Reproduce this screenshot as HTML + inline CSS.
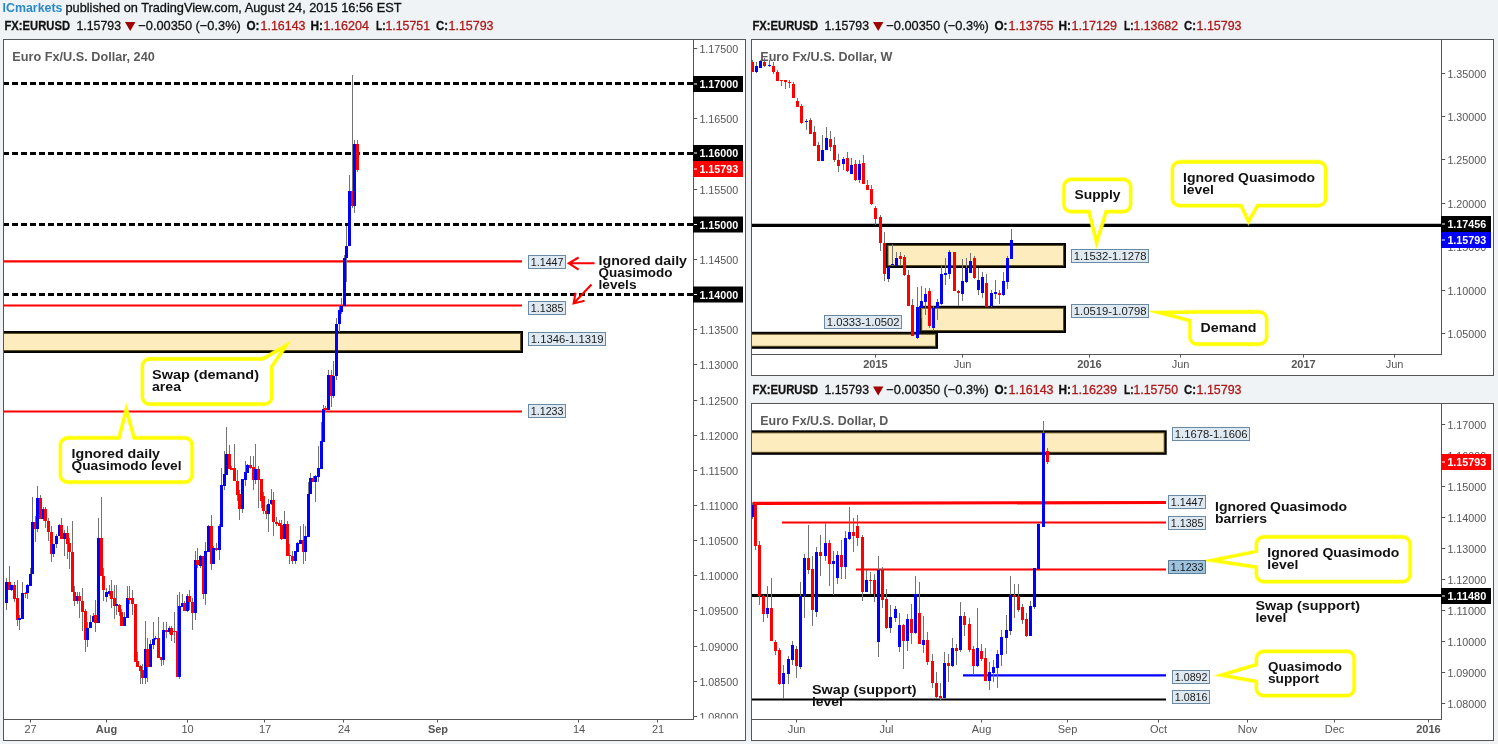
<!DOCTYPE html><html><head><meta charset="utf-8"><title>EURUSD</title>
<style>html,body{margin:0;padding:0;background:#eff3f6;}svg{display:block;font-family:"Liberation Sans", sans-serif;will-change:transform;}</style></head><body>
<svg width="1498" height="744" viewBox="0 0 1498 744">
<rect x="0" y="0" width="1498" height="744" fill="#eff3f6"/>
<text x="2.5" y="11.5" font-size="13" font-weight="bold" fill="#2b8ac6" text-anchor="start" textLength="60" lengthAdjust="spacingAndGlyphs">ICmarkets</text>
<text x="65.5" y="11.5" font-size="13" font-weight="normal" fill="#111" text-anchor="start" textLength="336" lengthAdjust="spacingAndGlyphs" stroke="#111" stroke-width="0.3">published on TradingView.com, August 24, 2015 16:56 EST</text>
<text x="4.5" y="29.5" font-size="13" font-weight="bold" fill="#111" text-anchor="start" textLength="65.5" lengthAdjust="spacingAndGlyphs" stroke="#111" stroke-width="0.3">FX:EURUSD</text>
<text x="76.5" y="29.5" font-size="13" font-weight="normal" fill="#111" text-anchor="start" textLength="44.5" lengthAdjust="spacingAndGlyphs" stroke="#111" stroke-width="0.3">1.15793</text>
<path d="M125 22.0 L135.4 22.0 L130.2 31.0 Z" fill="#a00000"/>
<text x="138.3" y="29.5" font-size="13" font-weight="normal" fill="#111" text-anchor="start" textLength="102.5" lengthAdjust="spacingAndGlyphs" stroke="#111" stroke-width="0.3">−0.00350 (−0.3%)</text>
<text x="246.5" y="29.5" font-size="13" font-weight="bold" fill="#111" text-anchor="start" textLength="13" lengthAdjust="spacingAndGlyphs" stroke="#111" stroke-width="0.3">O:</text>
<text x="260.5" y="29.5" font-size="13" font-weight="normal" fill="#b01818" text-anchor="start" textLength="45" lengthAdjust="spacingAndGlyphs" stroke="#b01818" stroke-width="0.3">1.16143</text>
<text x="310.5" y="29.5" font-size="13" font-weight="bold" fill="#111" text-anchor="start" textLength="12.5" lengthAdjust="spacingAndGlyphs" stroke="#111" stroke-width="0.3">H:</text>
<text x="323.5" y="29.5" font-size="13" font-weight="normal" fill="#b01818" text-anchor="start" textLength="45.5" lengthAdjust="spacingAndGlyphs" stroke="#b01818" stroke-width="0.3">1.16204</text>
<text x="376" y="29.5" font-size="13" font-weight="bold" fill="#111" text-anchor="start" textLength="9.5" lengthAdjust="spacingAndGlyphs" stroke="#111" stroke-width="0.3">L:</text>
<text x="385.5" y="29.5" font-size="13" font-weight="normal" fill="#b01818" text-anchor="start" textLength="44.5" lengthAdjust="spacingAndGlyphs" stroke="#b01818" stroke-width="0.3">1.15751</text>
<text x="436" y="29.5" font-size="13" font-weight="bold" fill="#111" text-anchor="start" textLength="12" lengthAdjust="spacingAndGlyphs" stroke="#111" stroke-width="0.3">C:</text>
<text x="448.5" y="29.5" font-size="13" font-weight="normal" fill="#b01818" text-anchor="start" textLength="45" lengthAdjust="spacingAndGlyphs" stroke="#b01818" stroke-width="0.3">1.15793</text>
<text x="752.5" y="29.5" font-size="13" font-weight="bold" fill="#111" text-anchor="start" textLength="65.5" lengthAdjust="spacingAndGlyphs" stroke="#111" stroke-width="0.3">FX:EURUSD</text>
<text x="824.5" y="29.5" font-size="13" font-weight="normal" fill="#111" text-anchor="start" textLength="44.5" lengthAdjust="spacingAndGlyphs" stroke="#111" stroke-width="0.3">1.15793</text>
<path d="M873 22.0 L883.4 22.0 L878.2 31.0 Z" fill="#a00000"/>
<text x="886.3" y="29.5" font-size="13" font-weight="normal" fill="#111" text-anchor="start" textLength="102.5" lengthAdjust="spacingAndGlyphs" stroke="#111" stroke-width="0.3">−0.00350 (−0.3%)</text>
<text x="994.5" y="29.5" font-size="13" font-weight="bold" fill="#111" text-anchor="start" textLength="13" lengthAdjust="spacingAndGlyphs" stroke="#111" stroke-width="0.3">O:</text>
<text x="1008.5" y="29.5" font-size="13" font-weight="normal" fill="#b01818" text-anchor="start" textLength="45" lengthAdjust="spacingAndGlyphs" stroke="#b01818" stroke-width="0.3">1.13755</text>
<text x="1058.5" y="29.5" font-size="13" font-weight="bold" fill="#111" text-anchor="start" textLength="12.5" lengthAdjust="spacingAndGlyphs" stroke="#111" stroke-width="0.3">H:</text>
<text x="1071.5" y="29.5" font-size="13" font-weight="normal" fill="#b01818" text-anchor="start" textLength="45.5" lengthAdjust="spacingAndGlyphs" stroke="#b01818" stroke-width="0.3">1.17129</text>
<text x="1124" y="29.5" font-size="13" font-weight="bold" fill="#111" text-anchor="start" textLength="9.5" lengthAdjust="spacingAndGlyphs" stroke="#111" stroke-width="0.3">L:</text>
<text x="1133.5" y="29.5" font-size="13" font-weight="normal" fill="#b01818" text-anchor="start" textLength="44.5" lengthAdjust="spacingAndGlyphs" stroke="#b01818" stroke-width="0.3">1.13682</text>
<text x="1184" y="29.5" font-size="13" font-weight="bold" fill="#111" text-anchor="start" textLength="12" lengthAdjust="spacingAndGlyphs" stroke="#111" stroke-width="0.3">C:</text>
<text x="1196.5" y="29.5" font-size="13" font-weight="normal" fill="#b01818" text-anchor="start" textLength="45" lengthAdjust="spacingAndGlyphs" stroke="#b01818" stroke-width="0.3">1.15793</text>
<text x="752.5" y="394" font-size="13" font-weight="bold" fill="#111" text-anchor="start" textLength="65.5" lengthAdjust="spacingAndGlyphs" stroke="#111" stroke-width="0.3">FX:EURUSD</text>
<text x="824.5" y="394" font-size="13" font-weight="normal" fill="#111" text-anchor="start" textLength="44.5" lengthAdjust="spacingAndGlyphs" stroke="#111" stroke-width="0.3">1.15793</text>
<path d="M873 386.5 L883.4 386.5 L878.2 395.5 Z" fill="#a00000"/>
<text x="886.3" y="394" font-size="13" font-weight="normal" fill="#111" text-anchor="start" textLength="102.5" lengthAdjust="spacingAndGlyphs" stroke="#111" stroke-width="0.3">−0.00350 (−0.3%)</text>
<text x="994.5" y="394" font-size="13" font-weight="bold" fill="#111" text-anchor="start" textLength="13" lengthAdjust="spacingAndGlyphs" stroke="#111" stroke-width="0.3">O:</text>
<text x="1008.5" y="394" font-size="13" font-weight="normal" fill="#b01818" text-anchor="start" textLength="45" lengthAdjust="spacingAndGlyphs" stroke="#b01818" stroke-width="0.3">1.16143</text>
<text x="1058.5" y="394" font-size="13" font-weight="bold" fill="#111" text-anchor="start" textLength="12.5" lengthAdjust="spacingAndGlyphs" stroke="#111" stroke-width="0.3">H:</text>
<text x="1071.5" y="394" font-size="13" font-weight="normal" fill="#b01818" text-anchor="start" textLength="45.5" lengthAdjust="spacingAndGlyphs" stroke="#b01818" stroke-width="0.3">1.16239</text>
<text x="1124" y="394" font-size="13" font-weight="bold" fill="#111" text-anchor="start" textLength="9.5" lengthAdjust="spacingAndGlyphs" stroke="#111" stroke-width="0.3">L:</text>
<text x="1133.5" y="394" font-size="13" font-weight="normal" fill="#b01818" text-anchor="start" textLength="44.5" lengthAdjust="spacingAndGlyphs" stroke="#b01818" stroke-width="0.3">1.15750</text>
<text x="1184" y="394" font-size="13" font-weight="bold" fill="#111" text-anchor="start" textLength="12" lengthAdjust="spacingAndGlyphs" stroke="#111" stroke-width="0.3">C:</text>
<text x="1196.5" y="394" font-size="13" font-weight="normal" fill="#b01818" text-anchor="start" textLength="45" lengthAdjust="spacingAndGlyphs" stroke="#b01818" stroke-width="0.3">1.15793</text>
<rect x="3.5" y="39.5" width="742" height="701" fill="#fff" stroke="#555" stroke-width="1"/>
<line x1="693.5" y1="39" x2="693.5" y2="720" stroke="#555" stroke-width="1"/>
<line x1="3" y1="719.5" x2="694" y2="719.5" stroke="#555" stroke-width="1"/>
<clipPath id="c1"><rect x="4" y="40" width="689" height="679"/></clipPath>
<g clip-path="url(#c1)">
<line x1="3" y1="261.4" x2="522" y2="261.4" stroke="#ff0000" stroke-width="2.1"/>
<line x1="3" y1="305.5" x2="522" y2="305.5" stroke="#ff0000" stroke-width="2.1"/>
<line x1="3" y1="411.5" x2="522" y2="411.5" stroke="#ff0000" stroke-width="2.1"/>
<rect x="-10" y="331" width="533" height="22" fill="#000"/>
<rect x="-8.1" y="332.9" width="529.2" height="18.2" fill="#5e4e24"/>
<rect x="-7" y="334" width="527" height="16" fill="#fdecbd"/>
<line x1="3" y1="83.5" x2="693" y2="83.5" stroke="#000" stroke-width="3" stroke-dasharray="6 3"/>
<line x1="3" y1="153.5" x2="693" y2="153.5" stroke="#000" stroke-width="3" stroke-dasharray="6 3"/>
<line x1="3" y1="224.5" x2="693" y2="224.5" stroke="#000" stroke-width="3" stroke-dasharray="6 3"/>
<line x1="3" y1="294.5" x2="693" y2="294.5" stroke="#000" stroke-width="3" stroke-dasharray="6 3"/>
<g shape-rendering="crispEdges"><path d="M6.5 578V610M9.5 566V590M11.5 585V591M14.5 582V602M17.5 580V626M19.5 615V630M22.5 582V619M25.5 592V598M27.5 584V599M30.5 568V586M32.5 497V574M35.5 516V542M37.5 486V532M40.5 495V519M43.5 507V521M45.5 507V528M48.5 518V541M51.5 526V562M53.5 544V557M56.5 534V548M59.5 524V536M61.5 518V539M64.5 530V556M67.5 526V559M69.5 538V569M72.5 521V592M74.5 586V606M77.5 592V604M79.5 592V618M82.5 588V631M85.5 609V652M87.5 622V647M90.5 615V628M93.5 613V622M95.5 600V632M98.5 518V623M101.5 497V576M103.5 568V601M106.5 588V602M109.5 585V596M111.5 580V608M114.5 585V619M116.5 585V615M119.5 604V616M121.5 609V626M124.5 612V626M127.5 586V618M129.5 586V604M132.5 590V615M135.5 604V662M137.5 652V667M140.5 665V684M142.5 664V684M145.5 621V684M147.5 638V682M150.5 640V667M153.5 622V649M155.5 636V640M158.5 617V658M161.5 657V666M163.5 622V665M166.5 622V638M169.5 626V634M171.5 626V641M174.5 612V643M177.5 595V677M179.5 592V679M182.5 594V607M184.5 601V611M187.5 594V612M189.5 590V610M192.5 598V630M195.5 551V620M197.5 548V568M200.5 555V568M203.5 556V599M205.5 542V605M208.5 525V552M211.5 515V570M213.5 546V564M216.5 543V551M219.5 524V560M221.5 468V527M224.5 451V490M226.5 427V475M229.5 445V469M231.5 466V470M234.5 444V481M237.5 470V501M239.5 490V520M242.5 479V513M245.5 461V486M247.5 464V473M250.5 456V469M253.5 456V490M255.5 444V484M258.5 466V508M261.5 479V508M263.5 492V514M266.5 505V519M268.5 499V532M271.5 489V505M273.5 492V536M276.5 517V526M279.5 520V526M281.5 520V540M284.5 511V539M287.5 521V556M289.5 544V564M292.5 551V564M295.5 551V564M297.5 542V552M300.5 526V544M303.5 524V564M305.5 526V561M308.5 482V537M310.5 473V494M313.5 476V482M315.5 475V502M318.5 446V482M321.5 422V469M323.5 405V442M325.5 406V412M328.5 370V410M331.5 370V407M333.5 361V398M336.5 318V380M339.5 305V332M341.5 298V314M344.5 255V306M346.5 226V282M349.5 175V246M352.5 75V208M354.5 140V213M357.5 140V172" stroke="#737373" stroke-width="1" fill="none"/>
<path d="M5 582h3V603h-3Z" fill="#0000ff"/>
<path d="M8 582h3V590h-3Z" fill="#ff0000"/>
<path d="M10 585h3V590h-3Z" fill="#0000ff"/>
<path d="M13 585h3V599h-3ZM16 598h3V620h-3Z" fill="#ff0000"/>
<path d="M18 618h3V620h-3ZM21 593h3V619h-3Z" fill="#0000ff"/>
<path d="M24 593h3V594h-3Z" fill="#ff0000"/>
<path d="M26 585h3V593h-3ZM29 574h3V586h-3ZM31 522h3V574h-3Z" fill="#0000ff"/>
<path d="M34 522h3V529h-3Z" fill="#ff0000"/>
<path d="M36 498h3V529h-3Z" fill="#0000ff"/>
<path d="M39 498h3V519h-3Z" fill="#ff0000"/>
<path d="M42 509h3V519h-3Z" fill="#0000ff"/>
<path d="M44 509h3V521h-3ZM47 521h3V532h-3ZM50 532h3V554h-3Z" fill="#ff0000"/>
<path d="M52 544h3V554h-3ZM55 536h3V544h-3ZM58 525h3V536h-3Z" fill="#0000ff"/>
<path d="M60 525h3V539h-3Z" fill="#ff0000"/>
<path d="M63 533h3V539h-3Z" fill="#0000ff"/>
<path d="M66 533h3V544h-3ZM68 543h3V552h-3ZM71 552h3V592h-3ZM73 592h3V601h-3Z" fill="#ff0000"/>
<path d="M76 596h3V601h-3Z" fill="#0000ff"/>
<path d="M78 596h3V601h-3ZM81 601h3V612h-3ZM84 611h3V640h-3Z" fill="#ff0000"/>
<path d="M86 628h3V640h-3ZM89 622h3V628h-3ZM92 616h3V622h-3Z" fill="#0000ff"/>
<path d="M94 615h3V623h-3Z" fill="#ff0000"/>
<path d="M97 538h3V623h-3Z" fill="#0000ff"/>
<path d="M100 538h3V576h-3ZM102 576h3V590h-3Z" fill="#ff0000"/>
<path d="M105 592h3V597h-3ZM108 591h3V594h-3Z" fill="#0000ff"/>
<path d="M110 591h3V599h-3ZM113 598h3V606h-3Z" fill="#ff0000"/>
<path d="M115 604h3V606h-3Z" fill="#0000ff"/>
<path d="M118 605h3V612h-3ZM120 612h3V626h-3Z" fill="#ff0000"/>
<path d="M123 617h3V626h-3ZM126 598h3V618h-3Z" fill="#0000ff"/>
<path d="M128 598h3V600h-3ZM131 598h3V604h-3ZM134 604h3V662h-3ZM136 661h3V667h-3ZM139 666h3V671h-3ZM141 670h3V678h-3Z" fill="#ff0000"/>
<path d="M144 649h3V678h-3Z" fill="#0000ff"/>
<path d="M146 649h3V667h-3Z" fill="#ff0000"/>
<path d="M149 644h3V667h-3ZM152 639h3V645h-3ZM154 638h3V639h-3Z" fill="#0000ff"/>
<path d="M157 638h3V658h-3ZM160 657h3V660h-3Z" fill="#ff0000"/>
<path d="M162 630h3V660h-3Z" fill="#0000ff"/>
<path d="M165 630h3V632h-3Z" fill="#ff0000"/>
<path d="M168 628h3V632h-3Z" fill="#0000ff"/>
<path d="M170 628h3V635h-3ZM173 631h3V632h-3ZM176 631h3V677h-3Z" fill="#ff0000"/>
<path d="M178 606h3V677h-3ZM181 603h3V607h-3Z" fill="#0000ff"/>
<path d="M183 603h3V611h-3Z" fill="#ff0000"/>
<path d="M186 596h3V611h-3Z" fill="#0000ff"/>
<path d="M188 596h3V602h-3ZM191 602h3V613h-3Z" fill="#ff0000"/>
<path d="M194 560h3V613h-3Z" fill="#0000ff"/>
<path d="M196 560h3V565h-3Z" fill="#ff0000"/>
<path d="M199 556h3V566h-3Z" fill="#0000ff"/>
<path d="M202 556h3V594h-3Z" fill="#ff0000"/>
<path d="M204 551h3V594h-3ZM207 526h3V552h-3Z" fill="#0000ff"/>
<path d="M210 526h3V564h-3Z" fill="#ff0000"/>
<path d="M212 548h3V564h-3Z" fill="#0000ff"/>
<path d="M215 548h3V550h-3Z" fill="#ff0000"/>
<path d="M218 526h3V550h-3ZM220 485h3V527h-3ZM223 474h3V486h-3ZM225 454h3V475h-3Z" fill="#0000ff"/>
<path d="M228 454h3V469h-3ZM230 468h3V470h-3ZM233 468h3V481h-3ZM236 481h3V495h-3ZM238 494h3V509h-3Z" fill="#ff0000"/>
<path d="M241 479h3V509h-3ZM244 472h3V480h-3ZM246 465h3V473h-3Z" fill="#0000ff"/>
<path d="M249 465h3V468h-3ZM252 467h3V480h-3Z" fill="#ff0000"/>
<path d="M254 469h3V480h-3Z" fill="#0000ff"/>
<path d="M257 469h3V480h-3ZM260 479h3V501h-3ZM262 496h3V511h-3ZM265 511h3V514h-3Z" fill="#ff0000"/>
<path d="M267 504h3V514h-3ZM270 500h3V504h-3Z" fill="#0000ff"/>
<path d="M272 500h3V522h-3ZM275 522h3V524h-3ZM278 523h3V526h-3ZM280 525h3V539h-3Z" fill="#ff0000"/>
<path d="M283 524h3V539h-3Z" fill="#0000ff"/>
<path d="M286 524h3V556h-3ZM288 555h3V556h-3ZM291 556h3V561h-3Z" fill="#ff0000"/>
<path d="M294 551h3V561h-3ZM296 543h3V552h-3ZM299 540h3V544h-3Z" fill="#0000ff"/>
<path d="M302 540h3V552h-3Z" fill="#ff0000"/>
<path d="M304 536h3V552h-3ZM307 494h3V537h-3ZM309 478h3V494h-3Z" fill="#0000ff"/>
<path d="M312 478h3V482h-3Z" fill="#ff0000"/>
<path d="M314 476h3V482h-3ZM317 468h3V477h-3ZM320 441h3V469h-3ZM322 409h3V442h-3Z" fill="#0000ff"/>
<path d="M324 408h3V410h-3Z" fill="#ff0000"/>
<path d="M327 375h3V410h-3Z" fill="#0000ff"/>
<path d="M330 375h3V396h-3Z" fill="#ff0000"/>
<path d="M332 376h3V396h-3ZM335 324h3V376h-3ZM338 310h3V324h-3ZM340 306h3V312h-3ZM343 258h3V306h-3ZM345 246h3V258h-3ZM348 191h3V246h-3Z" fill="#0000ff"/>
<path d="M351 191h3V206h-3Z" fill="#ff0000"/>
<path d="M353 144h3V206h-3Z" fill="#0000ff"/>
<path d="M356 144h3V170h-3Z" fill="#ff0000"/>
</g>
</g>
<rect x="528.5" y="255.5" width="37" height="13" fill="#dfe9f1" stroke="#6b89a3" stroke-width="1"/>
<text x="530.8" y="266.3" font-size="10" font-weight="normal" fill="#1a1a1a" text-anchor="start" textLength="32.7" lengthAdjust="spacingAndGlyphs">1.1447</text>
<rect x="528.5" y="301.5" width="37" height="13" fill="#dfe9f1" stroke="#6b89a3" stroke-width="1"/>
<text x="530.8" y="312.3" font-size="10" font-weight="normal" fill="#1a1a1a" text-anchor="start" textLength="32.7" lengthAdjust="spacingAndGlyphs">1.1385</text>
<rect x="528.5" y="332.5" width="77" height="13" fill="#dfe9f1" stroke="#6b89a3" stroke-width="1"/>
<text x="530.8" y="343.3" font-size="10" font-weight="normal" fill="#1a1a1a" text-anchor="start" textLength="72.7" lengthAdjust="spacingAndGlyphs">1.1346-1.1319</text>
<rect x="528.5" y="404.5" width="37" height="13" fill="#dfe9f1" stroke="#6b89a3" stroke-width="1"/>
<text x="530.8" y="415.3" font-size="10" font-weight="normal" fill="#1a1a1a" text-anchor="start" textLength="32.7" lengthAdjust="spacingAndGlyphs">1.1233</text>
<g stroke="#ff0000" stroke-width="2.1" fill="none" stroke-linecap="butt" stroke-linejoin="miter">
<path d="M594.6 263.3 L569 263.3 M578.6 257.5 L568.8 263.3 L578.6 269.6"/>
<path d="M591.5 284.5 L574.2 302.8 M575.6 292.8 L573.6 303.4 L584.6 300.8"/>
</g>
<text x="598.5" y="265" font-size="12" font-weight="bold" fill="#111" text-anchor="start" textLength="88.5" lengthAdjust="spacingAndGlyphs">Ignored daily</text>
<text x="598.5" y="277" font-size="12" font-weight="bold" fill="#111" text-anchor="start" textLength="74" lengthAdjust="spacingAndGlyphs">Quasimodo</text>
<text x="598.5" y="289" font-size="12" font-weight="bold" fill="#111" text-anchor="start" textLength="38" lengthAdjust="spacingAndGlyphs">levels</text>
<path d="M149.5 359L263 359L285.52 345.98L271.7 366.5L271.7 397A7 7 0 0 1 264.7 404L149.5 404A7 7 0 0 1 142.5 397L142.5 366A7 7 0 0 1 149.5 359Z" fill="none" stroke="#ffff55" stroke-opacity="0.5" stroke-width="4.8" stroke-linejoin="miter" stroke-miterlimit="10"/>
<path d="M149.5 359L263 359L285.52 345.98L271.7 366.5L271.7 397A7 7 0 0 1 264.7 404L149.5 404A7 7 0 0 1 142.5 397L142.5 366A7 7 0 0 1 149.5 359Z" fill="#fff" stroke="#ffff00" stroke-width="3.3" stroke-linejoin="miter" stroke-miterlimit="10"/>
<text x="152" y="379" font-size="12" font-weight="bold" fill="#111" text-anchor="start" textLength="107" lengthAdjust="spacingAndGlyphs">Swap (demand)</text>
<text x="152" y="391" font-size="12" font-weight="bold" fill="#111" text-anchor="start" textLength="29" lengthAdjust="spacingAndGlyphs">area</text>
<path d="M67.5 438L119 438L126.33 410.0L134 438L185 438A7 7 0 0 1 192 445L192 475A7 7 0 0 1 185 482L67.5 482A7 7 0 0 1 60.5 475L60.5 445A7 7 0 0 1 67.5 438Z" fill="none" stroke="#ffff55" stroke-opacity="0.5" stroke-width="4.8" stroke-linejoin="miter" stroke-miterlimit="10"/>
<path d="M67.5 438L119 438L126.33 410.0L134 438L185 438A7 7 0 0 1 192 445L192 475A7 7 0 0 1 185 482L67.5 482A7 7 0 0 1 60.5 475L60.5 445A7 7 0 0 1 67.5 438Z" fill="#fff" stroke="#ffff00" stroke-width="3.3" stroke-linejoin="miter" stroke-miterlimit="10"/>
<text x="71.5" y="458" font-size="12" font-weight="bold" fill="#111" text-anchor="start" textLength="88.5" lengthAdjust="spacingAndGlyphs">Ignored daily</text>
<text x="71.5" y="470" font-size="12" font-weight="bold" fill="#111" text-anchor="start" textLength="110" lengthAdjust="spacingAndGlyphs">Quasimodo level</text>
<text x="12.3" y="61" font-size="12.5" font-weight="bold" fill="#5a5a5a" text-anchor="start" textLength="142.5" lengthAdjust="spacingAndGlyphs">Euro Fx/U.S. Dollar, 240</text>
<clipPath id="c1p"><rect x="694" y="40" width="51" height="678.6"/></clipPath>
<g clip-path="url(#c1p)">
<line x1="694" y1="48.5" x2="697.2" y2="48.5" stroke="#555" stroke-width="1"/>
<text x="699.4" y="52.9" font-size="11" font-weight="normal" fill="#555" text-anchor="start" textLength="38.8" lengthAdjust="spacingAndGlyphs">1.17500</text>
<line x1="694" y1="83.5" x2="697.2" y2="83.5" stroke="#555" stroke-width="1"/>
<text x="699.4" y="87.9" font-size="11" font-weight="normal" fill="#555" text-anchor="start" textLength="38.8" lengthAdjust="spacingAndGlyphs">1.17000</text>
<line x1="694" y1="118.5" x2="697.2" y2="118.5" stroke="#555" stroke-width="1"/>
<text x="699.4" y="122.9" font-size="11" font-weight="normal" fill="#555" text-anchor="start" textLength="38.8" lengthAdjust="spacingAndGlyphs">1.16500</text>
<line x1="694" y1="153.5" x2="697.2" y2="153.5" stroke="#555" stroke-width="1"/>
<text x="699.4" y="157.9" font-size="11" font-weight="normal" fill="#555" text-anchor="start" textLength="38.8" lengthAdjust="spacingAndGlyphs">1.16000</text>
<line x1="694" y1="189.5" x2="697.2" y2="189.5" stroke="#555" stroke-width="1"/>
<text x="699.4" y="193.9" font-size="11" font-weight="normal" fill="#555" text-anchor="start" textLength="38.8" lengthAdjust="spacingAndGlyphs">1.15500</text>
<line x1="694" y1="224.5" x2="697.2" y2="224.5" stroke="#555" stroke-width="1"/>
<text x="699.4" y="228.9" font-size="11" font-weight="normal" fill="#555" text-anchor="start" textLength="38.8" lengthAdjust="spacingAndGlyphs">1.15000</text>
<line x1="694" y1="259.5" x2="697.2" y2="259.5" stroke="#555" stroke-width="1"/>
<text x="699.4" y="263.9" font-size="11" font-weight="normal" fill="#555" text-anchor="start" textLength="38.8" lengthAdjust="spacingAndGlyphs">1.14500</text>
<line x1="694" y1="294.5" x2="697.2" y2="294.5" stroke="#555" stroke-width="1"/>
<text x="699.4" y="298.9" font-size="11" font-weight="normal" fill="#555" text-anchor="start" textLength="38.8" lengthAdjust="spacingAndGlyphs">1.14000</text>
<line x1="694" y1="329.5" x2="697.2" y2="329.5" stroke="#555" stroke-width="1"/>
<text x="699.4" y="333.9" font-size="11" font-weight="normal" fill="#555" text-anchor="start" textLength="38.8" lengthAdjust="spacingAndGlyphs">1.13500</text>
<line x1="694" y1="364.5" x2="697.2" y2="364.5" stroke="#555" stroke-width="1"/>
<text x="699.4" y="368.9" font-size="11" font-weight="normal" fill="#555" text-anchor="start" textLength="38.8" lengthAdjust="spacingAndGlyphs">1.13000</text>
<line x1="694" y1="400.5" x2="697.2" y2="400.5" stroke="#555" stroke-width="1"/>
<text x="699.4" y="404.9" font-size="11" font-weight="normal" fill="#555" text-anchor="start" textLength="38.8" lengthAdjust="spacingAndGlyphs">1.12500</text>
<line x1="694" y1="435.5" x2="697.2" y2="435.5" stroke="#555" stroke-width="1"/>
<text x="699.4" y="439.9" font-size="11" font-weight="normal" fill="#555" text-anchor="start" textLength="38.8" lengthAdjust="spacingAndGlyphs">1.12000</text>
<line x1="694" y1="470.5" x2="697.2" y2="470.5" stroke="#555" stroke-width="1"/>
<text x="699.4" y="474.9" font-size="11" font-weight="normal" fill="#555" text-anchor="start" textLength="38.8" lengthAdjust="spacingAndGlyphs">1.11500</text>
<line x1="694" y1="505.5" x2="697.2" y2="505.5" stroke="#555" stroke-width="1"/>
<text x="699.4" y="509.9" font-size="11" font-weight="normal" fill="#555" text-anchor="start" textLength="38.8" lengthAdjust="spacingAndGlyphs">1.11000</text>
<line x1="694" y1="540.5" x2="697.2" y2="540.5" stroke="#555" stroke-width="1"/>
<text x="699.4" y="544.9" font-size="11" font-weight="normal" fill="#555" text-anchor="start" textLength="38.8" lengthAdjust="spacingAndGlyphs">1.10500</text>
<line x1="694" y1="575.5" x2="697.2" y2="575.5" stroke="#555" stroke-width="1"/>
<text x="699.4" y="579.9" font-size="11" font-weight="normal" fill="#555" text-anchor="start" textLength="38.8" lengthAdjust="spacingAndGlyphs">1.10000</text>
<line x1="694" y1="610.5" x2="697.2" y2="610.5" stroke="#555" stroke-width="1"/>
<text x="699.4" y="614.9" font-size="11" font-weight="normal" fill="#555" text-anchor="start" textLength="38.8" lengthAdjust="spacingAndGlyphs">1.09500</text>
<line x1="694" y1="646.5" x2="697.2" y2="646.5" stroke="#555" stroke-width="1"/>
<text x="699.4" y="650.9" font-size="11" font-weight="normal" fill="#555" text-anchor="start" textLength="38.8" lengthAdjust="spacingAndGlyphs">1.09000</text>
<line x1="694" y1="681.5" x2="697.2" y2="681.5" stroke="#555" stroke-width="1"/>
<text x="699.4" y="685.9" font-size="11" font-weight="normal" fill="#555" text-anchor="start" textLength="38.8" lengthAdjust="spacingAndGlyphs">1.08500</text>
<line x1="694" y1="716.5" x2="697.2" y2="716.5" stroke="#555" stroke-width="1"/>
<text x="699.4" y="720.9" font-size="11" font-weight="normal" fill="#555" text-anchor="start" textLength="38.8" lengthAdjust="spacingAndGlyphs">1.08000</text>
</g>
<rect x="693" y="76" width="50" height="16" fill="#000"/>
<line x1="694" y1="84" x2="697" y2="84" stroke="#fff" stroke-width="1"/>
<text x="699.4" y="88" font-size="11" font-weight="bold" fill="#fff" text-anchor="start" textLength="38.8" lengthAdjust="spacingAndGlyphs">1.17000</text>
<rect x="693" y="145" width="50" height="16" fill="#000"/>
<line x1="694" y1="153" x2="697" y2="153" stroke="#fff" stroke-width="1"/>
<text x="699.4" y="157" font-size="11" font-weight="bold" fill="#fff" text-anchor="start" textLength="38.8" lengthAdjust="spacingAndGlyphs">1.16000</text>
<rect x="693" y="161" width="50" height="16" fill="#ff0000"/>
<line x1="694" y1="169" x2="697" y2="169" stroke="#fff" stroke-width="1"/>
<text x="699.4" y="173" font-size="11" font-weight="bold" fill="#fff" text-anchor="start" textLength="38.8" lengthAdjust="spacingAndGlyphs">1.15793</text>
<rect x="693" y="216.5" width="50" height="16" fill="#000"/>
<line x1="694" y1="224.5" x2="697" y2="224.5" stroke="#fff" stroke-width="1"/>
<text x="699.4" y="228.5" font-size="11" font-weight="bold" fill="#fff" text-anchor="start" textLength="38.8" lengthAdjust="spacingAndGlyphs">1.15000</text>
<rect x="693" y="286.5" width="50" height="16" fill="#000"/>
<line x1="694" y1="294.5" x2="697" y2="294.5" stroke="#fff" stroke-width="1"/>
<text x="699.4" y="298.5" font-size="11" font-weight="bold" fill="#fff" text-anchor="start" textLength="38.8" lengthAdjust="spacingAndGlyphs">1.14000</text>
<line x1="30.5" y1="720" x2="30.5" y2="722.5" stroke="#555" stroke-width="1"/>
<text x="30.5" y="733" font-size="11" font-weight="normal" fill="#555" text-anchor="middle">27</text>
<line x1="106.5" y1="720" x2="106.5" y2="722.5" stroke="#555" stroke-width="1"/>
<text x="106.5" y="733" font-size="11" font-weight="bold" fill="#555" text-anchor="middle">Aug</text>
<line x1="187.5" y1="720" x2="187.5" y2="722.5" stroke="#555" stroke-width="1"/>
<text x="187.5" y="733" font-size="11" font-weight="normal" fill="#555" text-anchor="middle">10</text>
<line x1="264.5" y1="720" x2="264.5" y2="722.5" stroke="#555" stroke-width="1"/>
<text x="265.0" y="733" font-size="11" font-weight="normal" fill="#555" text-anchor="middle">17</text>
<line x1="343.5" y1="720" x2="343.5" y2="722.5" stroke="#555" stroke-width="1"/>
<text x="344.0" y="733" font-size="11" font-weight="normal" fill="#555" text-anchor="middle">24</text>
<line x1="437.5" y1="720" x2="437.5" y2="722.5" stroke="#555" stroke-width="1"/>
<text x="438.0" y="733" font-size="11" font-weight="bold" fill="#555" text-anchor="middle">Sep</text>
<line x1="578.5" y1="720" x2="578.5" y2="722.5" stroke="#555" stroke-width="1"/>
<text x="579.0" y="733" font-size="11" font-weight="normal" fill="#555" text-anchor="middle">14</text>
<line x1="657.5" y1="720" x2="657.5" y2="722.5" stroke="#555" stroke-width="1"/>
<text x="658.0" y="733" font-size="11" font-weight="normal" fill="#555" text-anchor="middle">21</text>
<rect x="751.5" y="39.5" width="742" height="336" fill="#fff" stroke="#555" stroke-width="1"/>
<line x1="1441.5" y1="39" x2="1441.5" y2="355" stroke="#555" stroke-width="1"/>
<line x1="751" y1="354.5" x2="1442" y2="354.5" stroke="#555" stroke-width="1"/>
<clipPath id="c2"><rect x="752" y="40" width="689" height="314"/></clipPath>
<g clip-path="url(#c2)">
<line x1="751" y1="225.3" x2="1441" y2="225.3" stroke="#000" stroke-width="3.2"/>
<rect x="885.5" y="243" width="180.5" height="25" fill="#000"/>
<rect x="887.4" y="244.9" width="176.7" height="21.2" fill="#5e4e24"/>
<rect x="888.5" y="246" width="174.5" height="19" fill="#fdecbd"/>
<rect x="919.2" y="305.8" width="146.79999999999995" height="27.19999999999999" fill="#000"/>
<rect x="921.1" y="307.7" width="142.99999999999994" height="23.399999999999988" fill="#5e4e24"/>
<rect x="922.2" y="308.8" width="140.79999999999995" height="21.19999999999999" fill="#fdecbd"/>
<rect x="740" y="331.8" width="198" height="17.0" fill="#000"/>
<rect x="741.9" y="333.7" width="194.2" height="13.2" fill="#5e4e24"/>
<rect x="743" y="334.8" width="192" height="11.0" fill="#fdecbd"/>
<g shape-rendering="crispEdges"><path d="M752.5 60V72M756.5 62V73M760.5 60V68M764.5 58V67M769.5 60V67M773.5 62V74M777.5 70V81M781.5 80V86M785.5 80V89M789.5 80V88M793.5 82V98M797.5 98V107M801.5 104V124M806.5 119V130M810.5 118V134M814.5 126V146M818.5 142V161M822.5 135V161M826.5 127V150M830.5 131V151M834.5 137V162M838.5 154V172M843.5 157V170M847.5 152V172M851.5 158V174M855.5 160V181M859.5 160V183M863.5 155V184M867.5 180V190M871.5 185V205M875.5 206V225M880.5 215V251M884.5 232V281M888.5 267V282M892.5 244V266M896.5 252V266M900.5 252V266M904.5 255V276M908.5 270V306M912.5 299V336M917.5 287V339M921.5 286V318M925.5 288V315M929.5 288V328M933.5 306V331M937.5 299V320M941.5 266V305M945.5 258V285M949.5 250V279M954.5 252V291M958.5 290V306M962.5 259V301M966.5 258V283M970.5 253V273M974.5 256V279M978.5 268V295M982.5 272V298M986.5 274V307M991.5 290V307M995.5 280V299M999.5 290V304M1003.5 272V296M1007.5 256V289M1011.5 229V259" stroke="#737373" stroke-width="1" fill="none"/>
<path d="M751 62h3V72h-3Z" fill="#ff0000"/>
<path d="M755 66h3V72h-3ZM759 61h3V68h-3Z" fill="#0000ff"/>
<path d="M763 62h3V66h-3Z" fill="#ff0000"/>
<path d="M768 65h3V66h-3Z" fill="#0000ff"/>
<path d="M772 66h3V72h-3ZM776 72h3V81h-3ZM780 80h3V81h-3ZM784 80h3V82h-3ZM788 82h3V83h-3ZM792 84h3V98h-3ZM796 101h3V107h-3ZM800 106h3V123h-3Z" fill="#ff0000"/>
<path d="M805 121h3V122h-3Z" fill="#0000ff"/>
<path d="M809 120h3V134h-3ZM813 132h3V146h-3ZM817 145h3V161h-3Z" fill="#ff0000"/>
<path d="M821 150h3V161h-3ZM825 138h3V150h-3Z" fill="#0000ff"/>
<path d="M829 139h3V147h-3ZM833 145h3V160h-3ZM837 160h3V166h-3Z" fill="#ff0000"/>
<path d="M842 159h3V164h-3Z" fill="#0000ff"/>
<path d="M846 158h3V171h-3Z" fill="#ff0000"/>
<path d="M850 165h3V174h-3Z" fill="#0000ff"/>
<path d="M854 164h3V180h-3Z" fill="#ff0000"/>
<path d="M858 164h3V180h-3Z" fill="#0000ff"/>
<path d="M862 163h3V184h-3ZM866 185h3V190h-3ZM870 189h3V204h-3ZM874 208h3V219h-3ZM879 217h3V243h-3ZM883 243h3V274h-3Z" fill="#ff0000"/>
<path d="M887 267h3V279h-3ZM891 264h3V265h-3ZM895 258h3V266h-3Z" fill="#0000ff"/>
<path d="M899 256h3V259h-3ZM903 257h3V275h-3ZM907 275h3V306h-3ZM911 305h3V336h-3Z" fill="#ff0000"/>
<path d="M916 307h3V338h-3ZM920 301h3V308h-3ZM924 294h3V302h-3Z" fill="#0000ff"/>
<path d="M928 291h3V326h-3Z" fill="#ff0000"/>
<path d="M932 308h3V328h-3ZM936 302h3V308h-3ZM940 274h3V304h-3ZM944 273h3V275h-3ZM948 252h3V274h-3Z" fill="#0000ff"/>
<path d="M953 252h3V291h-3ZM957 291h3V293h-3Z" fill="#ff0000"/>
<path d="M961 281h3V294h-3ZM965 268h3V282h-3ZM969 261h3V273h-3Z" fill="#0000ff"/>
<path d="M973 258h3V278h-3Z" fill="#ff0000"/>
<path d="M977 280h3V290h-3ZM981 277h3V293h-3Z" fill="#0000ff"/>
<path d="M985 283h3V307h-3Z" fill="#ff0000"/>
<path d="M990 293h3V306h-3ZM994 292h3V294h-3Z" fill="#0000ff"/>
<path d="M998 293h3V295h-3Z" fill="#ff0000"/>
<path d="M1002 281h3V295h-3ZM1006 258h3V282h-3ZM1010 240h3V259h-3Z" fill="#0000ff"/>
</g>
</g>
<path d="M1071 179.5L1123.5 179.5A7 7 0 0 1 1130.5 186.5L1130.5 204.5A7 7 0 0 1 1123.5 211.5L1106 211.5L1096.65 242.18L1089 211.5L1071 211.5A7 7 0 0 1 1064 204.5L1064 186.5A7 7 0 0 1 1071 179.5Z" fill="none" stroke="#ffff55" stroke-opacity="0.5" stroke-width="4.8" stroke-linejoin="miter" stroke-miterlimit="10"/>
<path d="M1071 179.5L1123.5 179.5A7 7 0 0 1 1130.5 186.5L1130.5 204.5A7 7 0 0 1 1123.5 211.5L1106 211.5L1096.65 242.18L1089 211.5L1071 211.5A7 7 0 0 1 1064 204.5L1064 186.5A7 7 0 0 1 1071 179.5Z" fill="#fff" stroke="#ffff00" stroke-width="3.3" stroke-linejoin="miter" stroke-miterlimit="10"/>
<text x="1074.5" y="198.5" font-size="12" font-weight="bold" fill="#111" text-anchor="start" textLength="46" lengthAdjust="spacingAndGlyphs">Supply</text>
<path d="M1179.5 162L1318.5 162A7 7 0 0 1 1325.5 169L1325.5 198.5A7 7 0 0 1 1318.5 205.5L1257.5 205.5L1248.6 221.11L1241 205.5L1179.5 205.5A7 7 0 0 1 1172.5 198.5L1172.5 169A7 7 0 0 1 1179.5 162Z" fill="none" stroke="#ffff55" stroke-opacity="0.5" stroke-width="4.8" stroke-linejoin="miter" stroke-miterlimit="10"/>
<path d="M1179.5 162L1318.5 162A7 7 0 0 1 1325.5 169L1325.5 198.5A7 7 0 0 1 1318.5 205.5L1257.5 205.5L1248.6 221.11L1241 205.5L1179.5 205.5A7 7 0 0 1 1172.5 198.5L1172.5 169A7 7 0 0 1 1179.5 162Z" fill="#fff" stroke="#ffff00" stroke-width="3.3" stroke-linejoin="miter" stroke-miterlimit="10"/>
<text x="1183" y="182" font-size="12" font-weight="bold" fill="#111" text-anchor="start" textLength="132" lengthAdjust="spacingAndGlyphs">Ignored Quasimodo</text>
<text x="1183" y="194" font-size="12" font-weight="bold" fill="#111" text-anchor="start" textLength="31" lengthAdjust="spacingAndGlyphs">level</text>
<path d="M1200 312L1259.5 312A7 7 0 0 1 1266.5 319L1266.5 337A7 7 0 0 1 1259.5 344L1197 344A7 7 0 0 1 1190 337L1190 320.5L1159.93 312.7Z" fill="none" stroke="#ffff55" stroke-opacity="0.5" stroke-width="4.8" stroke-linejoin="miter" stroke-miterlimit="10"/>
<path d="M1200 312L1259.5 312A7 7 0 0 1 1266.5 319L1266.5 337A7 7 0 0 1 1259.5 344L1197 344A7 7 0 0 1 1190 337L1190 320.5L1159.93 312.7Z" fill="#fff" stroke="#ffff00" stroke-width="3.3" stroke-linejoin="miter" stroke-miterlimit="10"/>
<text x="1200.5" y="331.5" font-size="12" font-weight="bold" fill="#111" text-anchor="start" textLength="56" lengthAdjust="spacingAndGlyphs">Demand</text>
<rect x="1071.5" y="249.5" width="77" height="13" fill="#dfe9f1" stroke="#6b89a3" stroke-width="1"/>
<text x="1073.8" y="260.3" font-size="10" font-weight="normal" fill="#1a1a1a" text-anchor="start" textLength="72.7" lengthAdjust="spacingAndGlyphs">1.1532-1.1278</text>
<rect x="1071.5" y="304.5" width="77" height="13" fill="#dfe9f1" stroke="#6b89a3" stroke-width="1"/>
<text x="1073.8" y="315.3" font-size="10" font-weight="normal" fill="#1a1a1a" text-anchor="start" textLength="72.7" lengthAdjust="spacingAndGlyphs">1.0519-1.0798</text>
<rect x="824.5" y="315.5" width="77" height="13" fill="#dfe9f1" stroke="#6b89a3" stroke-width="1"/>
<text x="826.8" y="326.3" font-size="10" font-weight="normal" fill="#1a1a1a" text-anchor="start" textLength="72.7" lengthAdjust="spacingAndGlyphs">1.0333-1.0502</text>
<text x="760.3" y="61" font-size="12.5" font-weight="bold" fill="#5a5a5a" text-anchor="start" textLength="132" lengthAdjust="spacingAndGlyphs">Euro Fx/U.S. Dollar, W</text>
<line x1="1442" y1="73.5" x2="1445.2" y2="73.5" stroke="#555" stroke-width="1"/>
<text x="1447.4" y="77.9" font-size="11" font-weight="normal" fill="#555" text-anchor="start" textLength="38.8" lengthAdjust="spacingAndGlyphs">1.35000</text>
<line x1="1442" y1="116.5" x2="1445.2" y2="116.5" stroke="#555" stroke-width="1"/>
<text x="1447.4" y="120.9" font-size="11" font-weight="normal" fill="#555" text-anchor="start" textLength="38.8" lengthAdjust="spacingAndGlyphs">1.30000</text>
<line x1="1442" y1="159.5" x2="1445.2" y2="159.5" stroke="#555" stroke-width="1"/>
<text x="1447.4" y="163.9" font-size="11" font-weight="normal" fill="#555" text-anchor="start" textLength="38.8" lengthAdjust="spacingAndGlyphs">1.25000</text>
<line x1="1442" y1="203.5" x2="1445.2" y2="203.5" stroke="#555" stroke-width="1"/>
<text x="1447.4" y="207.9" font-size="11" font-weight="normal" fill="#555" text-anchor="start" textLength="38.8" lengthAdjust="spacingAndGlyphs">1.20000</text>
<line x1="1442" y1="246.5" x2="1445.2" y2="246.5" stroke="#555" stroke-width="1"/>
<text x="1447.4" y="250.9" font-size="11" font-weight="normal" fill="#555" text-anchor="start" textLength="38.8" lengthAdjust="spacingAndGlyphs">1.15000</text>
<line x1="1442" y1="290.5" x2="1445.2" y2="290.5" stroke="#555" stroke-width="1"/>
<text x="1447.4" y="294.9" font-size="11" font-weight="normal" fill="#555" text-anchor="start" textLength="38.8" lengthAdjust="spacingAndGlyphs">1.10000</text>
<line x1="1442" y1="333.5" x2="1445.2" y2="333.5" stroke="#555" stroke-width="1"/>
<text x="1447.4" y="337.9" font-size="11" font-weight="normal" fill="#555" text-anchor="start" textLength="38.8" lengthAdjust="spacingAndGlyphs">1.05000</text>
<rect x="1441" y="216" width="50" height="16" fill="#000"/>
<line x1="1442" y1="224" x2="1445" y2="224" stroke="#fff" stroke-width="1"/>
<text x="1447.4" y="228" font-size="11" font-weight="bold" fill="#fff" text-anchor="start" textLength="38.8" lengthAdjust="spacingAndGlyphs">1.17456</text>
<rect x="1441" y="232" width="50" height="16" fill="#0000ff"/>
<line x1="1442" y1="240" x2="1445" y2="240" stroke="#fff" stroke-width="1"/>
<text x="1447.4" y="244" font-size="11" font-weight="bold" fill="#fff" text-anchor="start" textLength="38.8" lengthAdjust="spacingAndGlyphs">1.15793</text>
<line x1="875.5" y1="355" x2="875.5" y2="357.5" stroke="#555" stroke-width="1"/>
<text x="875.5" y="368" font-size="11" font-weight="bold" fill="#555" text-anchor="middle">2015</text>
<line x1="962.5" y1="355" x2="962.5" y2="357.5" stroke="#555" stroke-width="1"/>
<text x="962.5" y="368" font-size="11" font-weight="normal" fill="#555" text-anchor="middle">Jun</text>
<line x1="1089.5" y1="355" x2="1089.5" y2="357.5" stroke="#555" stroke-width="1"/>
<text x="1089.5" y="368" font-size="11" font-weight="bold" fill="#555" text-anchor="middle">2016</text>
<line x1="1180.5" y1="355" x2="1180.5" y2="357.5" stroke="#555" stroke-width="1"/>
<text x="1180.5" y="368" font-size="11" font-weight="normal" fill="#555" text-anchor="middle">Jun</text>
<line x1="1303.5" y1="355" x2="1303.5" y2="357.5" stroke="#555" stroke-width="1"/>
<text x="1303.5" y="368" font-size="11" font-weight="bold" fill="#555" text-anchor="middle">2017</text>
<line x1="1394.5" y1="355" x2="1394.5" y2="357.5" stroke="#555" stroke-width="1"/>
<text x="1394.5" y="368" font-size="11" font-weight="normal" fill="#555" text-anchor="middle">Jun</text>
<rect x="751.5" y="403.5" width="742" height="337" fill="#fff" stroke="#555" stroke-width="1"/>
<line x1="1441.5" y1="403" x2="1441.5" y2="720" stroke="#555" stroke-width="1"/>
<line x1="751" y1="719.5" x2="1442" y2="719.5" stroke="#555" stroke-width="1"/>
<clipPath id="c3"><rect x="752" y="404" width="689" height="315"/></clipPath>
<g clip-path="url(#c3)">
<rect x="740" y="430.3" width="426.70000000000005" height="24.5" fill="#000"/>
<rect x="741.9" y="432.2" width="422.90000000000003" height="20.7" fill="#5e4e24"/>
<rect x="743" y="433.3" width="420.70000000000005" height="18.5" fill="#fdecbd"/>
<line x1="751" y1="595.4" x2="1441" y2="595.4" stroke="#000" stroke-width="3"/>
<line x1="751" y1="699.5" x2="1166" y2="699.5" stroke="#000" stroke-width="2.1"/>
<line x1="752.5" y1="503.4" x2="1166" y2="502.5" stroke="#ff0000" stroke-width="3.1"/>
<line x1="782" y1="522.4" x2="1166" y2="522.4" stroke="#ff0000" stroke-width="2"/>
<line x1="856" y1="569.4" x2="1166" y2="569.4" stroke="#ff0000" stroke-width="2"/>
<line x1="963" y1="675.3" x2="1166" y2="675.3" stroke="#0000ff" stroke-width="2.2"/>
<g shape-rendering="crispEdges"><path d="M752.5 503V519M755.5 503V550M759.5 541V605M763.5 595V622M767.5 586V618M771.5 578V641M775.5 640V655M779.5 648V685M783.5 665V698M788.5 656V684M792.5 641V665M796.5 646V678M800.5 582V669M804.5 554V618M808.5 525V574M812.5 556V626M816.5 547V617M820.5 535V576M825.5 523V561M829.5 540V586M833.5 551V595M837.5 551V584M841.5 540V579M845.5 531V579M849.5 507V540M853.5 518V552M857.5 515V546M862.5 535V601M866.5 570V592M870.5 572V594M874.5 574V602M878.5 556V657M882.5 567V608M886.5 589V629M890.5 605V633M895.5 606V622M899.5 613V652M903.5 624V669M907.5 614V651M911.5 604V644M915.5 576V634M919.5 582V644M923.5 616V653M927.5 632V665M932.5 654V688M936.5 672V698M940.5 683V701M944.5 652V699M948.5 654V682M952.5 638V667M956.5 644V665M960.5 602V652M964.5 612V636M969.5 618V652M973.5 646V675M977.5 608V667M981.5 644V661M985.5 648V681M989.5 662V690M993.5 660V682M997.5 650V688M1001.5 630V666M1006.5 615V654M1010.5 576V635M1014.5 584V618M1018.5 584V612M1022.5 604V624M1026.5 613V637M1030.5 601V636M1034.5 568V609M1038.5 523V569M1043.5 421V527M1047.5 448V464" stroke="#737373" stroke-width="1" fill="none"/>
<path d="M751 505h3V517h-3Z" fill="#0000ff"/>
<path d="M754 504h3V546h-3ZM758 545h3V596h-3ZM762 596h3V614h-3Z" fill="#ff0000"/>
<path d="M766 608h3V614h-3Z" fill="#0000ff"/>
<path d="M770 608h3V641h-3ZM774 642h3V651h-3ZM778 650h3V684h-3Z" fill="#ff0000"/>
<path d="M782 673h3V684h-3ZM787 659h3V674h-3ZM791 645h3V660h-3Z" fill="#0000ff"/>
<path d="M795 649h3V666h-3Z" fill="#ff0000"/>
<path d="M799 596h3V667h-3ZM803 558h3V596h-3Z" fill="#0000ff"/>
<path d="M807 558h3V570h-3ZM811 569h3V610h-3Z" fill="#ff0000"/>
<path d="M815 552h3V612h-3Z" fill="#0000ff"/>
<path d="M819 552h3V556h-3Z" fill="#ff0000"/>
<path d="M824 543h3V556h-3Z" fill="#0000ff"/>
<path d="M828 543h3V564h-3Z" fill="#ff0000"/>
<path d="M832 561h3V564h-3ZM836 555h3V578h-3Z" fill="#0000ff"/>
<path d="M840 555h3V567h-3Z" fill="#ff0000"/>
<path d="M844 538h3V567h-3ZM848 532h3V539h-3Z" fill="#0000ff"/>
<path d="M852 532h3V536h-3ZM856 526h3V538h-3ZM861 537h3V592h-3Z" fill="#ff0000"/>
<path d="M865 580h3V592h-3Z" fill="#0000ff"/>
<path d="M869 580h3V581h-3ZM873 580h3V594h-3Z" fill="#ff0000"/>
<path d="M877 570h3V642h-3Z" fill="#0000ff"/>
<path d="M881 570h3V600h-3ZM885 599h3V628h-3Z" fill="#ff0000"/>
<path d="M889 617h3V628h-3ZM894 609h3V618h-3ZM898 625h3V647h-3Z" fill="#0000ff"/>
<path d="M902 625h3V641h-3Z" fill="#ff0000"/>
<path d="M906 619h3V641h-3Z" fill="#0000ff"/>
<path d="M910 619h3V633h-3Z" fill="#ff0000"/>
<path d="M914 594h3V633h-3Z" fill="#0000ff"/>
<path d="M918 613h3V644h-3Z" fill="#ff0000"/>
<path d="M922 640h3V645h-3Z" fill="#0000ff"/>
<path d="M926 640h3V662h-3ZM931 661h3V683h-3ZM935 683h3V697h-3ZM939 696h3V698h-3Z" fill="#ff0000"/>
<path d="M943 663h3V698h-3Z" fill="#0000ff"/>
<path d="M947 663h3V666h-3Z" fill="#ff0000"/>
<path d="M951 648h3V666h-3Z" fill="#0000ff"/>
<path d="M955 648h3V651h-3Z" fill="#ff0000"/>
<path d="M959 616h3V650h-3Z" fill="#0000ff"/>
<path d="M963 616h3V625h-3ZM968 624h3V650h-3ZM972 649h3V666h-3Z" fill="#ff0000"/>
<path d="M976 648h3V666h-3Z" fill="#0000ff"/>
<path d="M980 651h3V659h-3ZM984 658h3V681h-3Z" fill="#ff0000"/>
<path d="M988 672h3V681h-3ZM992 667h3V673h-3ZM996 654h3V668h-3ZM1000 637h3V655h-3ZM1005 630h3V638h-3ZM1009 595h3V631h-3Z" fill="#0000ff"/>
<path d="M1013 595h3V597h-3ZM1017 596h3V610h-3ZM1021 607h3V620h-3ZM1025 619h3V636h-3Z" fill="#ff0000"/>
<path d="M1029 606h3V636h-3ZM1033 568h3V607h-3ZM1037 524h3V569h-3ZM1042 433h3V527h-3Z" fill="#0000ff"/>
<path d="M1046 451h3V462h-3Z" fill="#ff0000"/>
</g>
</g>
<text x="1215" y="510.5" font-size="12" font-weight="bold" fill="#111" text-anchor="start" textLength="132" lengthAdjust="spacingAndGlyphs">Ignored Quasimodo</text>
<text x="1215" y="522.5" font-size="12" font-weight="bold" fill="#111" text-anchor="start" textLength="52" lengthAdjust="spacingAndGlyphs">barriers</text>
<path d="M1263.5 537L1403 537A7 7 0 0 1 1410 544L1410 574.5A7 7 0 0 1 1403 581.5L1263.5 581.5A7 7 0 0 1 1256.5 574.5L1256.5 567L1212.67 560.36L1256.5 551.5L1256.5 544A7 7 0 0 1 1263.5 537Z" fill="none" stroke="#ffff55" stroke-opacity="0.5" stroke-width="4.8" stroke-linejoin="miter" stroke-miterlimit="10"/>
<path d="M1263.5 537L1403 537A7 7 0 0 1 1410 544L1410 574.5A7 7 0 0 1 1403 581.5L1263.5 581.5A7 7 0 0 1 1256.5 574.5L1256.5 567L1212.67 560.36L1256.5 551.5L1256.5 544A7 7 0 0 1 1263.5 537Z" fill="#fff" stroke="#ffff00" stroke-width="3.3" stroke-linejoin="miter" stroke-miterlimit="10"/>
<text x="1267.3" y="556.5" font-size="12" font-weight="bold" fill="#111" text-anchor="start" textLength="132" lengthAdjust="spacingAndGlyphs">Ignored Quasimodo</text>
<text x="1267.3" y="568.5" font-size="12" font-weight="bold" fill="#111" text-anchor="start" textLength="31" lengthAdjust="spacingAndGlyphs">level</text>
<text x="1255.5" y="609.5" font-size="12" font-weight="bold" fill="#111" text-anchor="start" textLength="104.5" lengthAdjust="spacingAndGlyphs">Swap (support)</text>
<text x="1255.5" y="621.5" font-size="12" font-weight="bold" fill="#111" text-anchor="start" textLength="31" lengthAdjust="spacingAndGlyphs">level</text>
<path d="M1263.5 651.5L1347 651.5A7 7 0 0 1 1354 658.5L1354 688.5A7 7 0 0 1 1347 695.5L1263.5 695.5A7 7 0 0 1 1256.5 688.5L1256.5 681.5L1221.77 675.21L1256.5 664.7L1256.5 658.5A7 7 0 0 1 1263.5 651.5Z" fill="none" stroke="#ffff55" stroke-opacity="0.5" stroke-width="4.8" stroke-linejoin="miter" stroke-miterlimit="10"/>
<path d="M1263.5 651.5L1347 651.5A7 7 0 0 1 1354 658.5L1354 688.5A7 7 0 0 1 1347 695.5L1263.5 695.5A7 7 0 0 1 1256.5 688.5L1256.5 681.5L1221.77 675.21L1256.5 664.7L1256.5 658.5A7 7 0 0 1 1263.5 651.5Z" fill="#fff" stroke="#ffff00" stroke-width="3.3" stroke-linejoin="miter" stroke-miterlimit="10"/>
<text x="1268" y="670.7" font-size="12" font-weight="bold" fill="#111" text-anchor="start" textLength="74" lengthAdjust="spacingAndGlyphs">Quasimodo</text>
<text x="1268" y="682.7" font-size="12" font-weight="bold" fill="#111" text-anchor="start" textLength="51" lengthAdjust="spacingAndGlyphs">support</text>
<text x="812" y="693.5" font-size="12" font-weight="bold" fill="#111" text-anchor="start" textLength="104.5" lengthAdjust="spacingAndGlyphs">Swap (support)</text>
<text x="812" y="705.5" font-size="12" font-weight="bold" fill="#111" text-anchor="start" textLength="31" lengthAdjust="spacingAndGlyphs">level</text>
<rect x="1172.5" y="427.5" width="77" height="13" fill="#dfe9f1" stroke="#6b89a3" stroke-width="1"/>
<text x="1174.8" y="438.3" font-size="10" font-weight="normal" fill="#1a1a1a" text-anchor="start" textLength="72.7" lengthAdjust="spacingAndGlyphs">1.1678-1.1606</text>
<rect x="1168.5" y="495.5" width="37" height="13" fill="#dfe9f1" stroke="#6b89a3" stroke-width="1"/>
<text x="1170.8" y="506.3" font-size="10" font-weight="normal" fill="#1a1a1a" text-anchor="start" textLength="32.7" lengthAdjust="spacingAndGlyphs">1.1447</text>
<rect x="1168.5" y="516.5" width="37" height="13" fill="#dfe9f1" stroke="#6b89a3" stroke-width="1"/>
<text x="1170.8" y="527.3" font-size="10" font-weight="normal" fill="#1a1a1a" text-anchor="start" textLength="32.7" lengthAdjust="spacingAndGlyphs">1.1385</text>
<rect x="1168.5" y="560.5" width="37" height="13" fill="#9dc3de" stroke="#5d7d98" stroke-width="1"/>
<text x="1170.8" y="571.3" font-size="10" font-weight="normal" fill="#1a1a1a" text-anchor="start" textLength="32.7" lengthAdjust="spacingAndGlyphs">1.1233</text>
<rect x="1172.5" y="670.5" width="37" height="13" fill="#dfe9f1" stroke="#6b89a3" stroke-width="1"/>
<text x="1174.8" y="681.3" font-size="10" font-weight="normal" fill="#1a1a1a" text-anchor="start" textLength="32.7" lengthAdjust="spacingAndGlyphs">1.0892</text>
<rect x="1172.5" y="690.5" width="37" height="13" fill="#dfe9f1" stroke="#6b89a3" stroke-width="1"/>
<text x="1174.8" y="701.3" font-size="10" font-weight="normal" fill="#1a1a1a" text-anchor="start" textLength="32.7" lengthAdjust="spacingAndGlyphs">1.0816</text>
<text x="760.3" y="424.7" font-size="12.5" font-weight="bold" fill="#5a5a5a" text-anchor="start" textLength="128" lengthAdjust="spacingAndGlyphs">Euro Fx/U.S. Dollar, D</text>
<line x1="1442" y1="424.5" x2="1445.2" y2="424.5" stroke="#555" stroke-width="1"/>
<text x="1447.4" y="428.9" font-size="11" font-weight="normal" fill="#555" text-anchor="start" textLength="38.8" lengthAdjust="spacingAndGlyphs">1.17000</text>
<line x1="1442" y1="455.5" x2="1445.2" y2="455.5" stroke="#555" stroke-width="1"/>
<text x="1447.4" y="459.9" font-size="11" font-weight="normal" fill="#555" text-anchor="start" textLength="38.8" lengthAdjust="spacingAndGlyphs">1.16000</text>
<line x1="1442" y1="486.5" x2="1445.2" y2="486.5" stroke="#555" stroke-width="1"/>
<text x="1447.4" y="490.9" font-size="11" font-weight="normal" fill="#555" text-anchor="start" textLength="38.8" lengthAdjust="spacingAndGlyphs">1.15000</text>
<line x1="1442" y1="517.5" x2="1445.2" y2="517.5" stroke="#555" stroke-width="1"/>
<text x="1447.4" y="521.9" font-size="11" font-weight="normal" fill="#555" text-anchor="start" textLength="38.8" lengthAdjust="spacingAndGlyphs">1.14000</text>
<line x1="1442" y1="548.5" x2="1445.2" y2="548.5" stroke="#555" stroke-width="1"/>
<text x="1447.4" y="552.9" font-size="11" font-weight="normal" fill="#555" text-anchor="start" textLength="38.8" lengthAdjust="spacingAndGlyphs">1.13000</text>
<line x1="1442" y1="579.5" x2="1445.2" y2="579.5" stroke="#555" stroke-width="1"/>
<text x="1447.4" y="583.9" font-size="11" font-weight="normal" fill="#555" text-anchor="start" textLength="38.8" lengthAdjust="spacingAndGlyphs">1.12000</text>
<line x1="1442" y1="610.5" x2="1445.2" y2="610.5" stroke="#555" stroke-width="1"/>
<text x="1447.4" y="614.9" font-size="11" font-weight="normal" fill="#555" text-anchor="start" textLength="38.8" lengthAdjust="spacingAndGlyphs">1.11000</text>
<line x1="1442" y1="641.5" x2="1445.2" y2="641.5" stroke="#555" stroke-width="1"/>
<text x="1447.4" y="645.9" font-size="11" font-weight="normal" fill="#555" text-anchor="start" textLength="38.8" lengthAdjust="spacingAndGlyphs">1.10000</text>
<line x1="1442" y1="672.5" x2="1445.2" y2="672.5" stroke="#555" stroke-width="1"/>
<text x="1447.4" y="676.9" font-size="11" font-weight="normal" fill="#555" text-anchor="start" textLength="38.8" lengthAdjust="spacingAndGlyphs">1.09000</text>
<line x1="1442" y1="703.5" x2="1445.2" y2="703.5" stroke="#555" stroke-width="1"/>
<text x="1447.4" y="707.9" font-size="11" font-weight="normal" fill="#555" text-anchor="start" textLength="38.8" lengthAdjust="spacingAndGlyphs">1.08000</text>
<rect x="1441" y="454" width="50" height="16" fill="#ff0000"/>
<line x1="1442" y1="462" x2="1445" y2="462" stroke="#fff" stroke-width="1"/>
<text x="1447.4" y="466" font-size="11" font-weight="bold" fill="#fff" text-anchor="start" textLength="38.8" lengthAdjust="spacingAndGlyphs">1.15793</text>
<rect x="1441" y="588" width="50" height="16" fill="#000"/>
<line x1="1442" y1="596" x2="1445" y2="596" stroke="#fff" stroke-width="1"/>
<text x="1447.4" y="600" font-size="11" font-weight="bold" fill="#fff" text-anchor="start" textLength="38.8" lengthAdjust="spacingAndGlyphs">1.11480</text>
<line x1="796.5" y1="720" x2="796.5" y2="722.5" stroke="#555" stroke-width="1"/>
<text x="796.5" y="733" font-size="11" font-weight="normal" fill="#555" text-anchor="middle">Jun</text>
<line x1="886.5" y1="720" x2="886.5" y2="722.5" stroke="#555" stroke-width="1"/>
<text x="886.5" y="733" font-size="11" font-weight="normal" fill="#555" text-anchor="middle">Jul</text>
<line x1="981.5" y1="720" x2="981.5" y2="722.5" stroke="#555" stroke-width="1"/>
<text x="981.5" y="733" font-size="11" font-weight="normal" fill="#555" text-anchor="middle">Aug</text>
<line x1="1067.5" y1="720" x2="1067.5" y2="722.5" stroke="#555" stroke-width="1"/>
<text x="1067.5" y="733" font-size="11" font-weight="normal" fill="#555" text-anchor="middle">Sep</text>
<line x1="1158.5" y1="720" x2="1158.5" y2="722.5" stroke="#555" stroke-width="1"/>
<text x="1158.5" y="733" font-size="11" font-weight="normal" fill="#555" text-anchor="middle">Oct</text>
<line x1="1247.5" y1="720" x2="1247.5" y2="722.5" stroke="#555" stroke-width="1"/>
<text x="1247.5" y="733" font-size="11" font-weight="normal" fill="#555" text-anchor="middle">Nov</text>
<line x1="1334.5" y1="720" x2="1334.5" y2="722.5" stroke="#555" stroke-width="1"/>
<text x="1334.5" y="733" font-size="11" font-weight="normal" fill="#555" text-anchor="middle">Dec</text>
<line x1="1428.5" y1="720" x2="1428.5" y2="722.5" stroke="#555" stroke-width="1"/>
<text x="1428.5" y="733" font-size="11" font-weight="bold" fill="#555" text-anchor="middle">2016</text>
</svg></body></html>
